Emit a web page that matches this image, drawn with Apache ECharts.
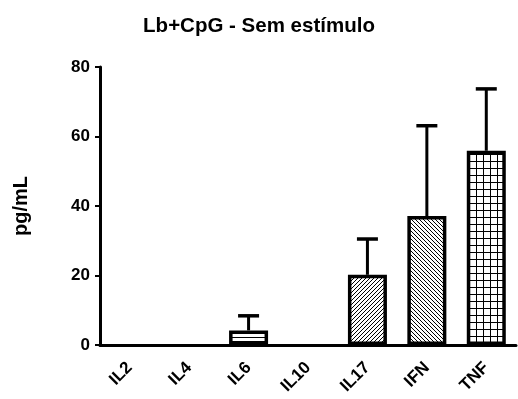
<!DOCTYPE html>
<html><head><meta charset="utf-8">
<script src="https://cdn.jsdelivr.net/npm/echarts@6/dist/echarts.min.js"></script>
<style>html,body{margin:0;padding:0;background:#fff}#c{width:518px;height:399px}</style>
</head><body><div id="c"></div>
<script>
const categories = ['IL2','IL4','IL6','IL10','IL17','IFN','TNF'];
const means = [0, 0, 4.2, 0, 20.2, 37.1, 55.9];
const errors = [0, 0, 4.2, 0, 10.3, 26.0, 17.8];
const patterns = ['none','none','horizontal','none','diagRight','diagLeft','grid'];
const yTicks = [0, 20, 40, 60, 80];

function makePattern(kind){
  const c = document.createElement('canvas');
  let w = 2, h = 2;
  if (kind === 'horizontal'){ w = 8; h = 4; }
  else if (kind === 'diagRight' || kind === 'diagLeft'){ w = 4; h = 4; }
  else if (kind === 'grid'){ w = 7; h = 7; }
  c.width = w; c.height = h;
  const ctx = c.getContext('2d');
  ctx.fillStyle = '#fff';
  ctx.fillRect(0,0,w,h);
  ctx.strokeStyle = '#000';
  ctx.lineWidth = 1;
  ctx.beginPath();
  if (kind === 'horizontal'){
    ctx.moveTo(0,1.5); ctx.lineTo(w,1.5);
  } else if (kind === 'diagRight'){
    ctx.moveTo(0,4); ctx.lineTo(4,0);
    ctx.moveTo(-1,1); ctx.lineTo(1,-1);
    ctx.moveTo(3,5); ctx.lineTo(5,3);
  } else if (kind === 'diagLeft'){
    ctx.moveTo(0,0); ctx.lineTo(4,4);
    ctx.moveTo(-1,3); ctx.lineTo(1,5);
    ctx.moveTo(3,-1); ctx.lineTo(5,1);
  } else if (kind === 'grid'){
    ctx.moveTo(0,0.5); ctx.lineTo(w,0.5);
    ctx.moveTo(0.5,0); ctx.lineTo(0.5,h);
  }
  ctx.stroke();
  return {image: c, repeat: 'repeat'};
}

const barData = means.map((v,i) => ({
  value: v,
  itemStyle: { color: makePattern(patterns[i]), borderColor: '#000', borderWidth: v > 0 ? 3.5 : 0 }
}));
const errData = means.map((v,i) => [i, v, v + errors[i]]);

const FONT = 'Liberation Sans, Arial, sans-serif';
const chart = echarts.init(document.getElementById('c'), null, {renderer: 'canvas'});
chart.setOption({
  animation: false,
  backgroundColor: '#fff',
  title: {
    text: 'Lb+CpG - Sem estímulo',
    left: 'center', top: 11,
    textStyle: { fontFamily: FONT, fontWeight: 'bold', fontSize: 20.5, color: '#000' }
  },
  grid: { left: 100, right: 2, top: 67, bottom: 54 },
  xAxis: {
    type: 'category', data: categories,
    axisLine: { lineStyle: { color: '#000', width: 3 } },
    axisTick: { alignWithLabel: true, length: 5, lineStyle: { color: '#000', width: 2 } },
    axisLabel: { rotate: 45, margin: 20, color: '#000', fontWeight: 'bold', fontSize: 17, fontFamily: FONT }
  },
  yAxis: {
    type: 'value', min: yTicks[0], max: yTicks[yTicks.length-1], interval: 20,
    name: 'pg/mL', nameLocation: 'middle', nameGap: 69, nameRotate: 90,
    nameTextStyle: { color: '#000', fontWeight: 'bold', fontSize: 20, fontFamily: FONT },
    splitLine: { show: false },
    axisLine: { show: true, lineStyle: { color: '#000', width: 3 } },
    axisTick: { show: true, length: 5, lineStyle: { color: '#000', width: 2 } },
    axisLabel: { margin: 10, color: '#000', fontWeight: 'bold', fontSize: 17, fontFamily: FONT }
  },
  series: [
    {
      type: 'custom',
      z: 1,
      data: errData,
      renderItem: function(params, api){
        const x = api.value(0), lo = api.value(1), hi = api.value(2);
        if (hi <= lo) return null;
        const p1 = api.coord([x, lo]);
        const p2 = api.coord([x, hi]);
        const hw = 10.5;
        return { type: 'group', children: [
          { type: 'line', shape: { x1: p1[0], y1: p1[1], x2: p2[0], y2: p2[1] }, style: { stroke: '#000', lineWidth: 3 } },
          { type: 'line', shape: { x1: p2[0]-hw, y1: p2[1], x2: p2[0]+hw, y2: p2[1] }, style: { stroke: '#000', lineWidth: 3.5 } }
        ]};
      }
    },
    {
      type: 'bar', z: 2, data: barData, barWidth: 39
    }
  ]
});
</script></body></html>
